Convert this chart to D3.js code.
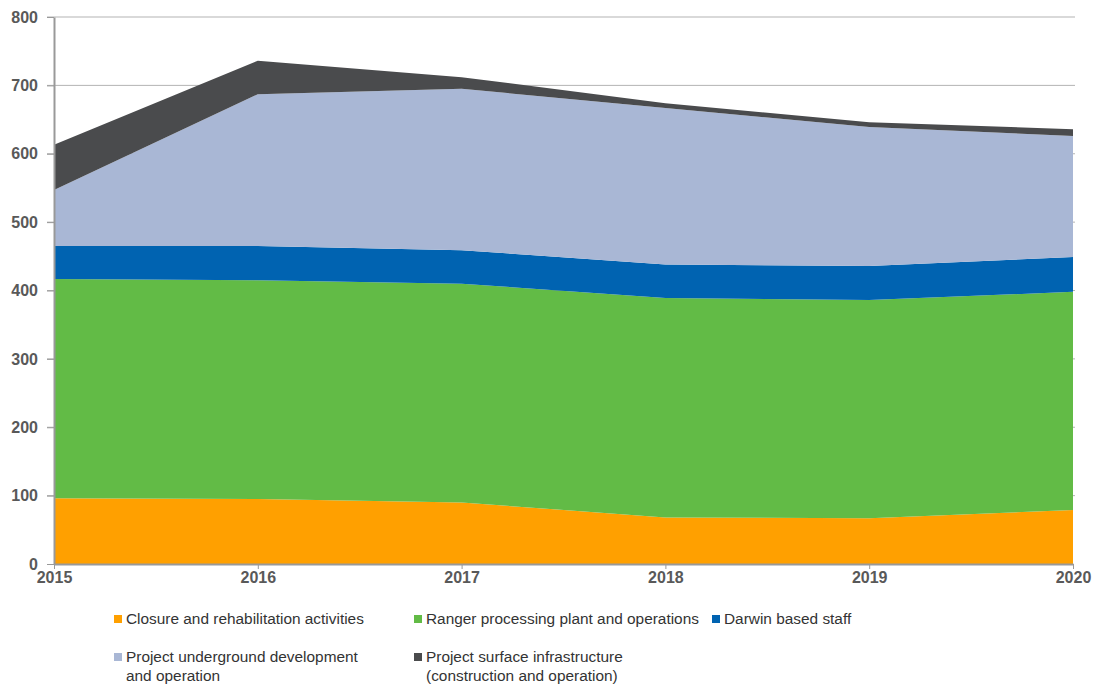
<!DOCTYPE html>
<html>
<head>
<meta charset="utf-8">
<script src="https://cdn.jsdelivr.net/npm/d3@7"></script>
<style>
  body { margin: 0; background: #fff; }
  svg { font-family: "Liberation Sans", Arial, sans-serif; }
</style>
</head>
<body>
<svg width="1096" height="685"></svg>
<script>
var years = [2015, 2016, 2017, 2018, 2019, 2020];
var closure = [96, 95, 90, 68, 67, 79];
var ranger = [321, 320, 320, 321, 319, 319];
var darwin = [48, 50, 49, 49, 50, 51];
var underground = [82, 222, 236, 229, 203, 177];
var surface = [66, 49, 17, 7, 7, 10];
var yTicks = [0, 100, 200, 300, 400, 500, 600, 700, 800];

var series = [
    { key: 'closure', name: ['Closure and rehabilitation activities'], values: closure, color: '#ffa000' },
    { key: 'ranger', name: ['Ranger processing plant and operations'], values: ranger, color: '#62bb46' },
    { key: 'darwin', name: ['Darwin based staff'], values: darwin, color: '#0063b1' },
    { key: 'underground', name: ['Project underground development', 'and operation'], values: underground, color: '#a9b7d5' },
    { key: 'surface', name: ['Project surface infrastructure', '(construction and operation)'], values: surface, color: '#4a4b4d' }
];

var data = years.map(function (y, i) {
    var row = { year: y };
    series.forEach(function (s) { row[s.key] = s.values[i]; });
    return row;
});

var svg = d3.select('svg');
var margin = { top: 17, right: 23, bottom: 121, left: 54 };
var width = 1096 - margin.left - margin.right;
var height = 685 - margin.top - margin.bottom;

var g = svg.append('g')
    .attr('transform', 'translate(' + margin.left + ',' + margin.top + ')');

var xScale = d3.scaleLinear().domain([2015, 2020]).range([0, width]);
var yScale = d3.scaleLinear().domain([0, 800]).range([height, 0]);

// gridlines
g.append('g')
    .selectAll('line')
    .data(yTicks.slice(1))
    .enter().append('line')
    .attr('x1', -7)
    .attr('x2', width + 2)
    .attr('y1', function (d) { return yScale(d); })
    .attr('y2', function (d) { return yScale(d); })
    .attr('stroke', '#b3b3b3')
    .attr('stroke-width', 1);

var stacked = d3.stack().keys(series.map(function (s) { return s.key; }))(data);

var area = d3.area()
    .x(function (d) { return xScale(d.data.year); })
    .y0(function (d) { return yScale(d[0]); })
    .y1(function (d) { return yScale(d[1]); });

g.selectAll('path.layer')
    .data(stacked)
    .enter().append('path')
    .attr('class', 'layer')
    .attr('d', area)
    .attr('fill', function (d, i) { return series[i].color; });

// y axis
var yAxis = g.append('g')
    .call(d3.axisLeft(yScale).tickValues(yTicks).tickSize(7).tickSizeOuter(0));
yAxis.select('.domain').attr('stroke', '#999').attr('stroke-width', 2);
yAxis.selectAll('.tick line').attr('stroke', '#999');
yAxis.selectAll('.tick text')
    .attr('x', -16)
    .attr('fill', '#595959')
    .attr('font-size', 16)
    .attr('font-weight', 'bold');

// x axis
var xAxis = g.append('g')
    .attr('transform', 'translate(0,' + height + ')')
    .call(d3.axisBottom(xScale).tickValues(years).tickFormat(d3.format('d')).tickSize(5).tickSizeOuter(0));
xAxis.select('.domain').attr('stroke', '#999').attr('stroke-width', 2);
xAxis.selectAll('.tick line').attr('stroke', '#999');
xAxis.selectAll('.tick text')
    .attr('y', 8)
    .attr('fill', '#595959')
    .attr('font-size', 16)
    .attr('font-weight', 'bold');

// legend
var legendPos = [
    { x: 114, y: 619 },
    { x: 414, y: 619 },
    { x: 712, y: 619 },
    { x: 114, y: 657 },
    { x: 414, y: 657 }
];

var legend = svg.append('g')
    .selectAll('g')
    .data(series)
    .enter().append('g')
    .attr('transform', function (d, i) { return 'translate(' + legendPos[i].x + ',' + legendPos[i].y + ')'; });

legend.append('rect')
    .attr('x', 0)
    .attr('y', -4)
    .attr('width', 8)
    .attr('height', 8)
    .attr('fill', function (d) { return d.color; });

legend.append('text')
    .attr('x', 12)
    .attr('y', 5)
    .attr('font-size', 15.4)
    .attr('fill', '#333')
    .selectAll('tspan')
    .data(function (d) { return d.name; })
    .enter().append('tspan')
    .attr('x', 12)
    .attr('dy', function (d, i) { return i === 0 ? 0 : 19; })
    .text(function (d) { return d; });
</script>
</body>
</html>
